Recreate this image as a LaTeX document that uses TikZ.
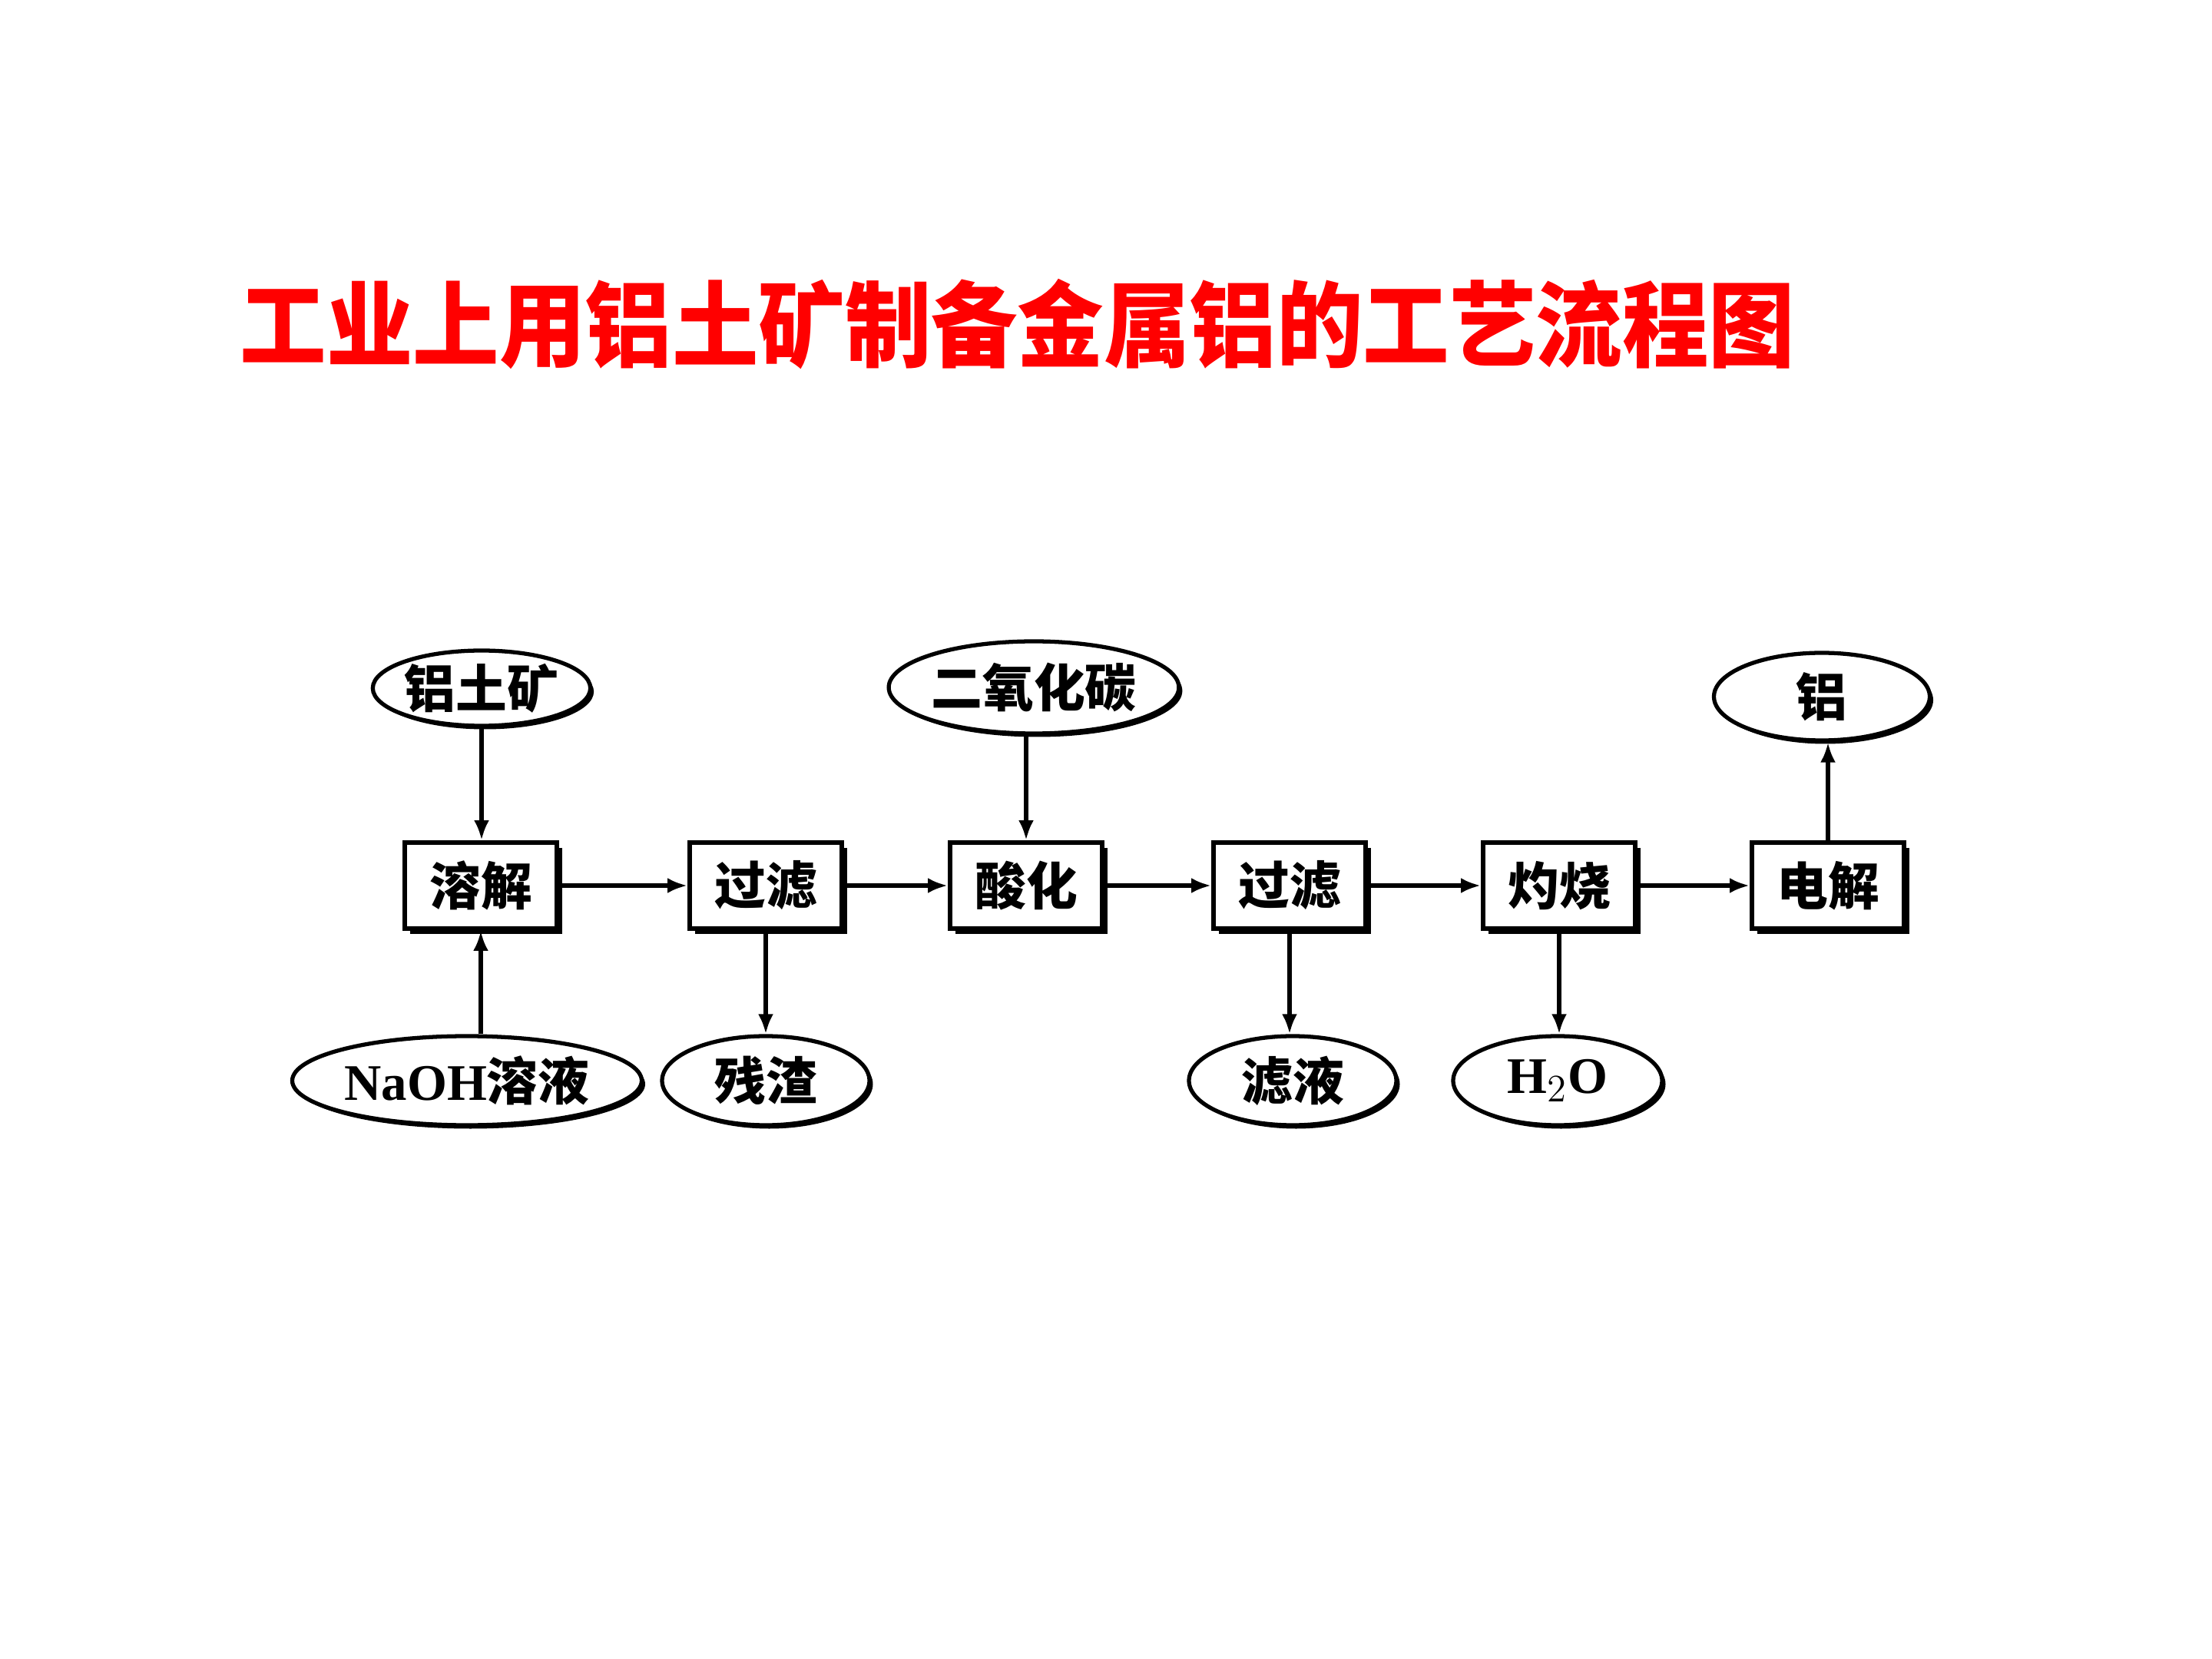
\documentclass[tikz,border=0pt]{standalone}
\usepackage{fontspec}
\newfontfamily\cjk{Noto Sans CJK SC}
\newfontfamily\lat{Liberation Serif}
\usetikzlibrary{shapes.geometric,arrows.meta,shadows}
\tikzset{
  proc/.style={draw, line width=1.7pt, fill=white, minimum width=1.98cm, minimum height=1.12cm, inner sep=0pt,
    font=\cjk\bfseries\fontsize{19}{19}\selectfont,
    drop shadow={shadow xshift=0.07cm, shadow yshift=-0.07cm, fill=black, opacity=1}},
  mat/.style={ellipse, draw, line width=1.5pt, fill=white, inner sep=0pt,
    font=\cjk\bfseries\fontsize{19}{19}\selectfont,
    drop shadow={shadow xshift=0.045cm, shadow yshift=-0.045cm, fill=black, opacity=1}},
  flow/.style={line width=1.5pt, -{Latex[length=0.26cm,width=0.2cm]}},
  ttl/.style={text=red, font=\cjk\bfseries\fontsize{32}{32}\selectfont, inner sep=0pt, yscale=1.08}
}
\begin{document}
\begin{tikzpicture}
\useasboundingbox (0,0) rectangle (28.8,-21.6);
\node[ttl] (title) at (13.25,-4.22) {工业上用铝土矿制备金属铝的工艺流程图};
% process boxes
\node[proc] (rj) at (6.26,-11.53) {溶解};
\node[proc] (gl1) at (9.97,-11.53) {过滤};
\node[proc] (sh) at (13.36,-11.53) {酸化};
\node[proc] (gl2) at (16.79,-11.53) {过滤};
\node[proc] (zs) at (20.30,-11.53) {灼烧};
\node[proc] (dj) at (23.80,-11.53) {电解};
% materials
\node[mat, minimum width=2.70cm, minimum height=0.98cm] (ore) at (6.27,-8.96) {铝土矿};
\node[mat, minimum width=4.55cm, minimum height=1.16cm] (naoh) at (6.08,-14.07) {{\lat NaOH}溶液};
\node[mat, minimum width=2.70cm, minimum height=1.16cm] (cz) at (9.97,-14.07) {残渣};
\node[mat, minimum width=3.54cm, minimum height=1.20cm] (co2) at (13.46,-8.95) {二氧化碳};
\node[mat, minimum width=2.70cm, minimum height=1.16cm] (ly) at (16.83,-14.07) {滤液};
\node[mat, minimum width=2.72cm, minimum height=1.16cm] (h2o) at (20.28,-14.07) {\lat H$_2$O};
\node[mat, minimum width=2.81cm, minimum height=1.14cm] (al) at (23.72,-9.07) {铝};
% connectors
\draw[flow] (ore.south) -- (ore.south |- rj.north);
\draw[flow] (naoh.north -| rj.south) -- (rj.south);
\draw[flow] (rj) -- (gl1);
\draw[flow] (gl1.south) -- (cz.north -| gl1.south);
\draw[flow] (gl1) -- (sh);
\draw[flow] (co2.south -| sh.north) -- (sh.north);
\draw[flow] (sh) -- (gl2);
\draw[flow] (gl2.south) -- (ly.north -| gl2.south);
\draw[flow] (gl2) -- (zs);
\draw[flow] (zs.south) -- (h2o.north -| zs.south);
\draw[flow] (zs) -- (dj);
\draw[flow] (dj.north) -- (al.south -| dj.north);
\end{tikzpicture}
\end{document}
